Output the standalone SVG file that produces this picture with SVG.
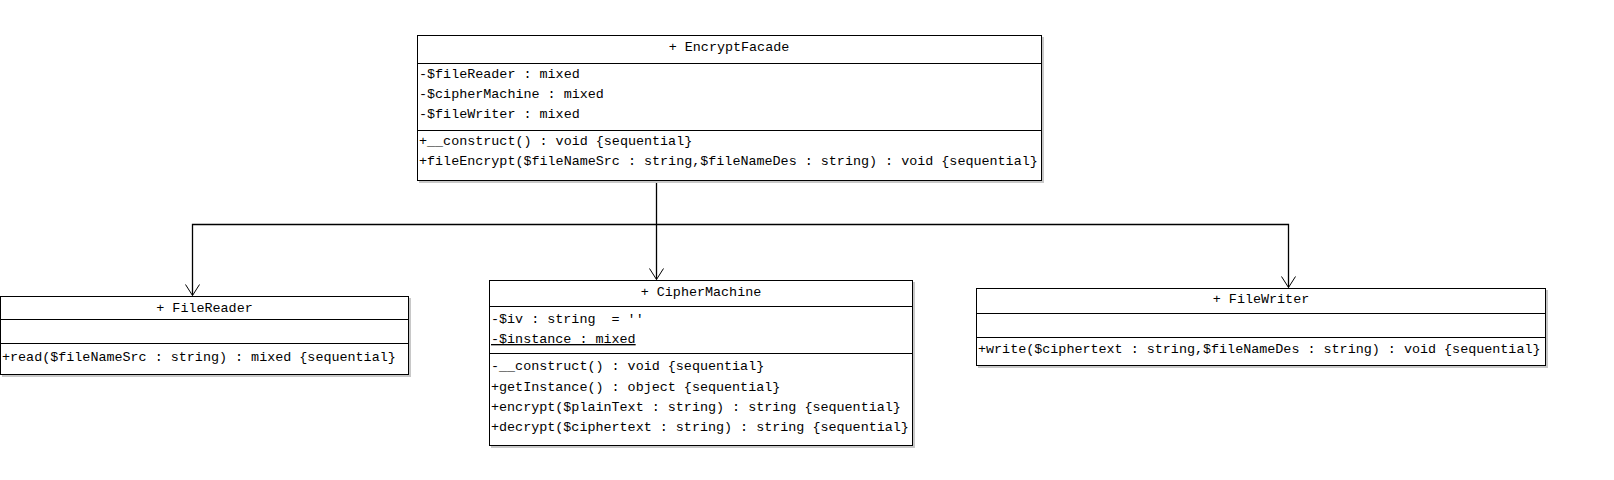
<svg xmlns="http://www.w3.org/2000/svg" width="1614" height="480" viewBox="0 0 1614 480">
<defs>
<style>
text{font-family:"Liberation Mono","DejaVu Sans Mono",monospace;font-size:13.4px;fill:#000;white-space:pre}
.t{text-anchor:middle}
.box{fill:#fff;stroke:#000;stroke-width:1}
.sh{fill:none;stroke:#c8c8c8;stroke-width:2}
.div{stroke:#000;stroke-width:1}
.c{fill:none;stroke:#000;stroke-width:1.3}
.ah{fill:none;stroke:#000;stroke-width:1}
</style>
</defs>
<rect width="1614" height="480" fill="#fff"/>

<g id="connectors">
<path class="c" d="M656.5,181 V279.5"/>
<path class="c" d="M656.5,224.5 H192.5 V295.5"/>
<path class="c" d="M656.5,224.5 H1288.5 V287.5"/>
<path class="ah" d="M649.5,268.5 L656.5,279.5 L663.5,268.5"/>
<path class="ah" d="M185.5,284.5 L192.5,295.5 L199.5,284.5"/>
<path class="ah" d="M1281.5,276.5 L1288.5,287.5 L1295.5,276.5"/>
</g>

<g id="EncryptFacade">
<path class="sh" d="M1043,37 V182 H419"/>
<rect class="box" x="417.5" y="35.5" width="624" height="145"/>
<line class="div" x1="417.5" y1="63.5" x2="1041.5" y2="63.5"/>
<line class="div" x1="417.5" y1="130.5" x2="1041.5" y2="130.5"/>
<text class="t" x="729" y="51">+ EncryptFacade</text>
<text x="419" y="78">-$fileReader : mixed</text>
<text x="419" y="98">-$cipherMachine : mixed</text>
<text x="419" y="118">-$fileWriter : mixed</text>
<text x="419" y="145">+__construct() : void {sequential}</text>
<text x="419" y="165">+fileEncrypt($fileNameSrc : string,$fileNameDes : string) : void {sequential}</text>
</g>

<g id="FileReader">
<path class="sh" d="M410,298 V376 H2"/>
<rect class="box" x="0.5" y="296.5" width="408" height="78"/>
<line class="div" x1="0.5" y1="319.5" x2="408.5" y2="319.5"/>
<line class="div" x1="0.5" y1="343.5" x2="408.5" y2="343.5"/>
<text class="t" x="204.5" y="312">+ FileReader</text>
<text x="2" y="361">+read($fileNameSrc : string) : mixed {sequential}</text>
</g>

<g id="CipherMachine">
<path class="sh" d="M914,282 V447 H491"/>
<rect class="box" x="489.5" y="280.5" width="423" height="165"/>
<line class="div" x1="489.5" y1="306.5" x2="912.5" y2="306.5"/>
<line class="div" x1="489.5" y1="353.5" x2="912.5" y2="353.5"/>
<text class="t" x="701" y="296">+ CipherMachine</text>
<text x="491" y="323">-$iv : string  = ''</text>
<text x="491" y="343" text-decoration="underline">-$instance : mixed</text>
<text x="491" y="370">-__construct() : void {sequential}</text>
<text x="491" y="391">+getInstance() : object {sequential}</text>
<text x="491" y="411">+encrypt($plainText : string) : string {sequential}</text>
<text x="491" y="431">+decrypt($ciphertext : string) : string {sequential}</text>
</g>

<g id="FileWriter">
<path class="sh" d="M1547,290 V367 H978"/>
<rect class="box" x="976.5" y="288.5" width="569" height="77"/>
<line class="div" x1="976.5" y1="313.5" x2="1545.5" y2="313.5"/>
<line class="div" x1="976.5" y1="337.5" x2="1545.5" y2="337.5"/>
<text class="t" x="1261" y="303">+ FileWriter</text>
<text x="978" y="353">+write($ciphertext : string,$fileNameDes : string) : void {sequential}</text>
</g>
</svg>
